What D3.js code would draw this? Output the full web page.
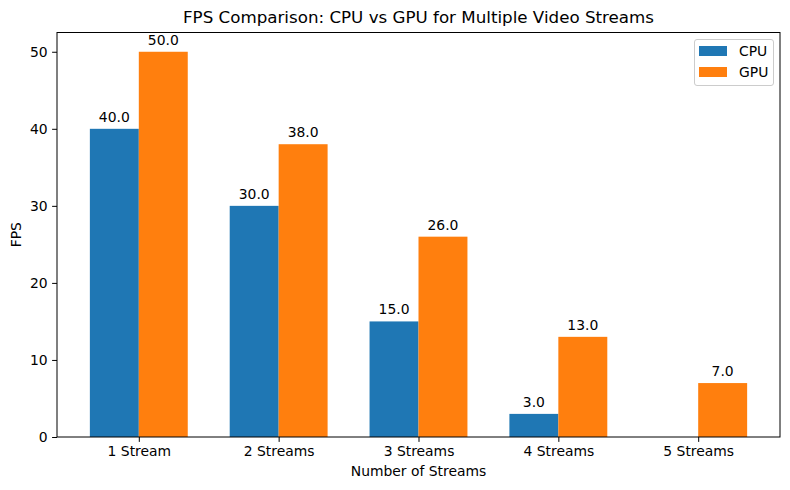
<!DOCTYPE html>
<html><head><meta charset="utf-8">
<script src="https://cdn.jsdelivr.net/npm/d3@7"></script>
<style>body{margin:0;background:#fff}svg{display:block;font-family:"DejaVu Sans",sans-serif}</style>
</head><body><svg id="c" width="790" height="490"></svg>
<script>
const categories = ["1 Stream","2 Streams","3 Streams","4 Streams","5 Streams"];
const cpuFps = [40, 30, 15, 3, 0];
const gpuFps = [50, 38, 26, 13, 7];
const seriesNames = ["CPU","GPU"];
const yTicks = [0,10,20,30,40,50];
const colors = ["#1f77b4","#ff7f0e"];

const svg = d3.select("#c");
const L=57, R=780, T=32.5, B=437;
const barW = 0.35;
const x = d3.scaleLinear().domain([-0.585, 4.585]).range([L, R]);
const y = d3.scaleLinear().domain([0, 52.5]).range([B, T]);

const series = [cpuFps, gpuFps];
series.forEach((vals, si) => {
  const off = si === 0 ? -barW/2 : barW/2;
  const g = svg.append("g");
  g.selectAll("rect").data(vals).join("rect")
    .attr("x", (d,i) => x(i+off-barW/2))
    .attr("width", (d,i) => x(i+off+barW/2) - x(i+off-barW/2))
    .attr("y", d => y(d))
    .attr("height", d => B - y(d))
    .attr("fill", colors[si]);
  g.selectAll("text").data(vals.map((d,i)=>({d,i})).filter(o=>o.d>0)).join("text")
    .attr("x", o => x(o.i+off))
    .attr("y", o => y(o.d) - 7)
    .attr("text-anchor","middle")
    .attr("font-size","13.9px")
    .attr("fill","#000")
    .text(o => o.d.toFixed(1));
});

// axes
const xAxis = d3.axisBottom(x).tickValues(d3.range(categories.length)).tickFormat(i=>categories[i]).tickSize(4.9).tickPadding(4.5);
const gx = svg.append("g").attr("transform",`translate(0,${B})`).call(xAxis);
const yAxis = d3.axisLeft(y).tickValues(yTicks).tickSize(4.9).tickPadding(4.5);
const gy = svg.append("g").attr("transform",`translate(${L},0)`).call(yAxis);
[gx,gy].forEach(g=>{
  g.select(".domain").remove();
  g.selectAll("text").attr("font-size","13.9px").attr("font-family","DejaVu Sans").attr("fill","#000");
  g.selectAll("line").attr("stroke","#000").attr("stroke-width",1);
});
svg.append("rect").attr("x",L).attr("y",T).attr("width",R-L).attr("height",B-T)
  .attr("fill","none").attr("stroke","#000").attr("stroke-width",1);

// titles
svg.append("text").attr("x",(L+R)/2).attr("y",23).attr("text-anchor","middle")
  .attr("font-size","16.7px").text("FPS Comparison: CPU vs GPU for Multiple Video Streams");
svg.append("text").attr("x",(L+R)/2).attr("y",476).attr("text-anchor","middle")
  .attr("font-size","13.9px").text("Number of Streams");
svg.append("text").attr("transform",`translate(21,${(T+B)/2}) rotate(-90)`).attr("text-anchor","middle")
  .attr("font-size","13.9px").text("FPS");

// legend
const lg = svg.append("g");
lg.append("rect").attr("x",694.5).attr("y",39.5).attr("width",79).attr("height",46).attr("rx",2.5)
  .attr("fill","#fff").attr("fill-opacity",0.8).attr("stroke","#ccc");
seriesNames.forEach((n,i)=>{
  lg.append("rect").attr("x",699).attr("y",46+i*21).attr("width",28).attr("height",10).attr("fill",colors[i]);
  lg.append("text").attr("x",739).attr("y",56+i*21).attr("font-size","13.9px").text(n);
});
</script></body></html>
